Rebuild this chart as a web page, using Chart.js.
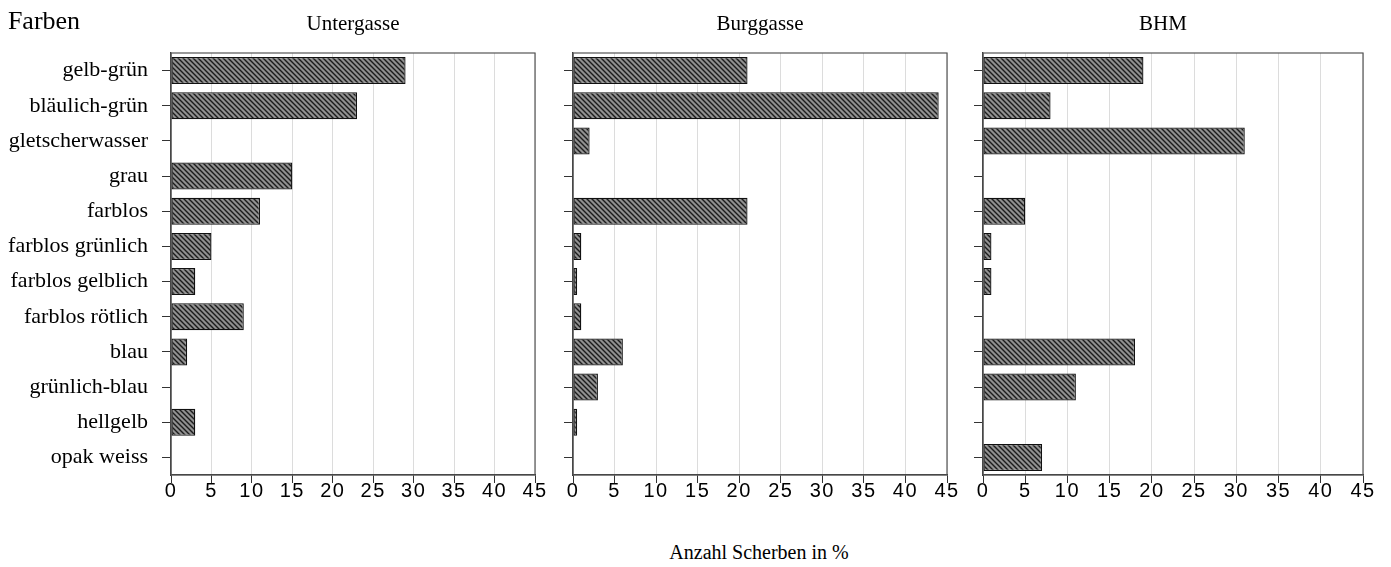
<!DOCTYPE html>
<html lang="de">
<head>
<meta charset="utf-8">
<title>Farben</title>
<script src="https://cdn.jsdelivr.net/npm/chart.js@4.4.0/dist/chart.umd.min.js"></script>
<style>
  body { margin: 0; background: #fff; }
  #wrap { position: relative; width: 1391px; height: 567px; overflow: hidden; font-family: "Liberation Serif", "DejaVu Serif", serif; color: #000; }
  canvas { position: absolute; top: 0; }
  .lbl { position: absolute; white-space: nowrap; transform: translate(-50%, -50%); font-size: 21px; }
</style>
</head>
<body>
<div id="wrap">
  <canvas id="p1" width="550" height="520" style="left:0px"></canvas>
  <canvas id="p2" width="414" height="520" style="left:553px"></canvas>
  <canvas id="p3" width="420" height="520" style="left:963px"></canvas>
  <div class="lbl" style="left:44px;top:21px;font-size:26px">Farben</div>
  <div class="lbl" style="left:353px;top:23px">Untergasse</div>
  <div class="lbl" style="left:760px;top:23px">Burggasse</div>
  <div class="lbl" style="left:1163px;top:23px">BHM</div>
  <div class="lbl" style="left:759px;top:552px;font-size:20px">Anzahl Scherben in %</div>
</div>
<script>
var categories = ['gelb-grün', 'bläulich-grün', 'gletscherwasser', 'grau', 'farblos',
  'farblos grünlich', 'farblos gelblich', 'farblos rötlich', 'blau', 'grünlich-blau',
  'hellgelb', 'opak weiss'];
var untergasse = [29, 23, 0, 15, 11, 5, 3, 9, 2, 0, 3, 0];
var burggasse  = [21, 44, 2, 0, 21, 1, 0.5, 1, 6, 3, 0.5, 0];
var bhm        = [19, 8, 31, 0, 5, 1, 1, 0, 18, 11, 0, 7];
var xMin = 0, xMax = 45, xStep = 5;

function hatch(ctx) {
  var c = document.createElement('canvas');
  c.width = c.height = 5;
  var g = c.getContext('2d');
  g.fillStyle = '#909090';
  g.fillRect(0, 0, 5, 5);
  g.strokeStyle = '#1c1c1c';
  g.lineWidth = 1.4;
  g.beginPath();
  g.moveTo(-1, -1); g.lineTo(6, 6);
  g.moveTo(-1, 4); g.lineTo(1, 6);
  g.moveTo(4, -1); g.lineTo(6, 1);
  g.stroke();
  return ctx.createPattern(c, 'repeat');
}

// dunkler Rahmen um die Zeichenfläche; Zahlen der x-Achse leicht gesperrt
var frame = {
  id: 'frame',
  afterLayout: function(chart) {
    var s = chart.scales.x;
    if (s._spaced) return;
    var orig = s.drawLabels;
    s.drawLabels = function(area) {
      this.ctx.letterSpacing = '1.5px';
      orig.call(this, area);
      this.ctx.letterSpacing = '0px';
    };
    s._spaced = true;
  },
  beforeDatasetsDraw: function(chart) {
    var a = chart.chartArea, ctx = chart.ctx;
    ctx.save();
    ctx.strokeStyle = '#555';
    ctx.lineWidth = 1.2;
    ctx.strokeRect(a.left, a.top, a.right - a.left, a.bottom - a.top);
    ctx.restore();
  }
};

function makePanel(id, values, showLabels, yWidth, padRight) {
  var ctx = document.getElementById(id).getContext('2d');
  return new Chart(ctx, {
    type: 'bar',
    data: {
      labels: categories,
      datasets: [{
        data: values,
        backgroundColor: hatch(ctx),
        borderColor: '#111',
        borderWidth: function(c) { return c.raw ? 1.3 : 0; },
        borderSkipped: false,
        barPercentage: 0.77,
        categoryPercentage: 1
      }]
    },
    options: {
      indexAxis: 'y',
      responsive: false,
      animation: false,
      layout: { padding: { top: 53, right: padRight, bottom: 0, left: 0 } },
      plugins: { legend: { display: false }, tooltip: { enabled: false } },
      scales: {
        x: {
          min: xMin, max: xMax,
          ticks: { stepSize: xStep, padding: -4, color: '#000',
            font: { family: '"Liberation Sans", Arial, sans-serif', size: 20 } },
          grid: { color: '#dcdcdc', tickColor: '#333', tickLength: 8, lineWidth: 1 },
          border: { color: '#333', width: 1.3 },
          afterFit: function(s) { s.height = 45; }
        },
        y: {
          ticks: {
            padding: 14, color: '#000',
            font: { family: '"Liberation Serif", "Times New Roman", serif', size: 22 },
            callback: function(v, i) { return showLabels ? categories[i] : ''; }
          },
          grid: { drawOnChartArea: false, offset: false, tickColor: '#333', tickLength: 9 },
          border: { color: '#333', width: 1.3 },
          afterFit: function(s) { s.width = yWidth; }
        }
      }
    },
    plugins: [frame]
  });
}

makePanel('p1', untergasse, true, 171, 15);
makePanel('p2', burggasse, false, 20, 20);
makePanel('p3', bhm, false, 20, 20);
</script>
</body>
</html>
